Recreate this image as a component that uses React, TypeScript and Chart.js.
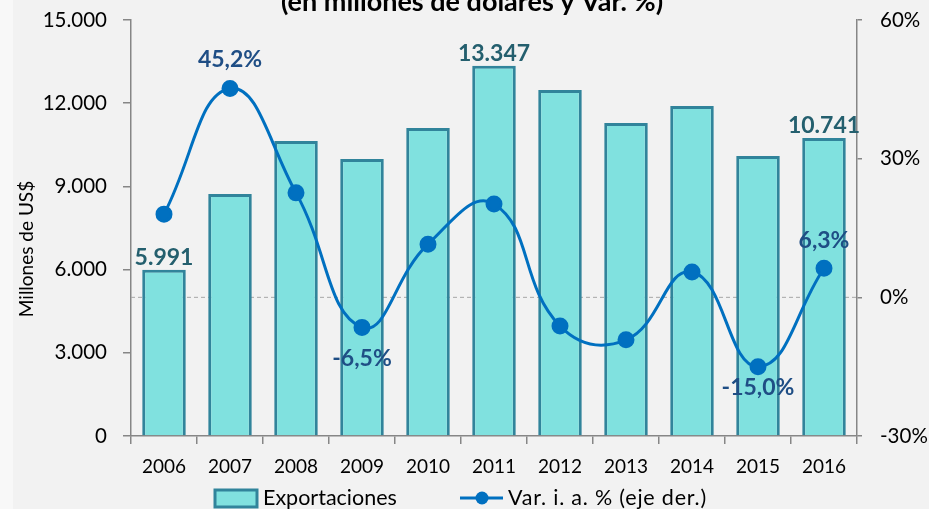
import React, { useEffect, useRef } from "react";
import { Chart, registerables } from "chart.js";

Chart.register(...registerables);

const years = ["2006", "2007", "2008", "2009", "2010", "2011", "2012", "2013", "2014", "2015", "2016"];
const exportaciones = [5991, 8726, 10640, 9990, 11110, 13347, 12480, 11290, 11900, 10100, 10741];
const variacion = [18.0, 45.2, 22.6, -6.5, 11.5, 20.2, -6.2, -9.2, 5.5, -15.0, 6.3];
const leftTicks = [0, 3000, 6000, 9000, 12000, 15000];
const rightTicks = [-30, 0, 30, 60];
// which points carry a data label
const barLabelIdx = [0, 5, 10];
const lineLabelIdx: { i: number; dy: number }[] = [
  { i: 1, dy: -29 },
  { i: 3, dy: 31 },
  { i: 9, dy: 21 },
  { i: 10, dy: -28 },
];

const FONT = "Lato, 'Open Sans', sans-serif";
const BAR_FILL = "#80E1DF";
const BAR_BORDER = "#31849B";
const LINE_COLOR = "#0070C0";
const AXIS_COLOR = "#868686";
const BAR_LABEL = "#245F6E";
const LINE_LABEL = "#1F4E85";

const fmtThousands = (v: number) => v.toString().replace(/\B(?=(\d{3})+(?!\d))/g, ".");
const fmtPct = (v: number) => v.toFixed(1).replace(".", ",") + "%";

const decorPlugin = {
  id: "decor",
  beforeDraw(chart: any) {
    const { ctx, width, height } = chart;
    ctx.save();
    ctx.fillStyle = "#F2F2F2";
    ctx.fillRect(0, 0, width, height);
    ctx.fillStyle = "#F8F8F8";
    ctx.fillRect(0, 0, 13, height);
    ctx.restore();
  },
  beforeDatasetsDraw(chart: any) {
    const { ctx, chartArea } = chart;
    const y1 = chart.scales.y1;
    const y0 = y1.getPixelForValue(0);
    ctx.save();
    ctx.strokeStyle = "#A6A6A6";
    ctx.lineWidth = 1;
    ctx.setLineDash([4, 3]);
    ctx.beginPath();
    ctx.moveTo(chartArea.left, y0);
    ctx.lineTo(chartArea.right, y0);
    ctx.stroke();
    ctx.restore();
  },
  afterDraw(chart: any) {
    const { ctx } = chart;
    ctx.save();
    // title (partially cut at top)
    ctx.fillStyle = "#000";
    ctx.font = `bold 27px ${FONT}`;
    ctx.textAlign = "center";
    ctx.textBaseline = "alphabetic";
    ctx.fillText("(en millones de dólares y Var. %)", 472, 11);

    // y axis title
    ctx.save();
    ctx.translate(27, 249);
    ctx.rotate(-Math.PI / 2);
    ctx.font = `19px ${FONT}`;
    ctx.textAlign = "center";
    ctx.textBaseline = "middle";
    ctx.fillText("Millones de US$", 0, 0);
    ctx.restore();

    // data labels
    const barMeta = chart.getDatasetMeta(0);
    const lineMeta = chart.getDatasetMeta(1);
    ctx.font = `bold 23px ${FONT}`;
    ctx.textAlign = "center";
    ctx.textBaseline = "bottom";
    ctx.fillStyle = BAR_LABEL;
    barLabelIdx.forEach((i) => {
      const el = barMeta.data[i];
      ctx.fillText(fmtThousands(exportaciones[i]), el.x, el.y - 1);
    });
    ctx.fillStyle = LINE_LABEL;
    ctx.textBaseline = "middle";
    lineLabelIdx.forEach(({ i, dy }) => {
      const el = lineMeta.data[i];
      ctx.fillText(fmtPct(variacion[i]), el.x, el.y + dy);
    });

    // legend
    const ly = 498;
    ctx.fillStyle = BAR_FILL;
    ctx.strokeStyle = BAR_BORDER;
    ctx.lineWidth = 3;
    ctx.fillRect(215, ly - 8, 42, 17);
    ctx.strokeRect(215, ly - 8, 42, 17);
    ctx.fillStyle = "#000";
    ctx.font = `21.5px ${FONT}`;
    ctx.textAlign = "left";
    ctx.textBaseline = "middle";
    ctx.fillText("Exportaciones", 263, ly);
    ctx.strokeStyle = LINE_COLOR;
    ctx.lineWidth = 3;
    ctx.beginPath();
    ctx.moveTo(460, ly);
    ctx.lineTo(503, ly);
    ctx.stroke();
    ctx.fillStyle = LINE_COLOR;
    ctx.beginPath();
    ctx.arc(482, ly, 6.5, 0, Math.PI * 2);
    ctx.fill();
    ctx.fillStyle = "#000";
    try {
      (ctx as any).letterSpacing = "0.8px";
    } catch (e) {}
    ctx.fillText("Var. i. a. % (eje der.)", 508, ly);
    ctx.restore();
  },
};

export default function App() {
  const ref = useRef<HTMLCanvasElement | null>(null);
  useEffect(() => {
    document.body.style.margin = "0";
    document.body.style.background = "#F2F2F2";
    if (!ref.current) return;
    const chart = new Chart(ref.current, {
      type: "bar",
      data: {
        labels: years,
        datasets: [
          {
            type: "bar",
            label: "Exportaciones",
            data: exportaciones,
            backgroundColor: BAR_FILL,
            borderColor: BAR_BORDER,
            borderWidth: 3,
            yAxisID: "y",
            barPercentage: 0.66,
            categoryPercentage: 1,
            order: 2,
          },
          {
            type: "line",
            label: "Var. i. a. % (eje der.)",
            data: variacion,
            borderColor: LINE_COLOR,
            backgroundColor: LINE_COLOR,
            borderWidth: 3,
            pointRadius: 7,
            pointHoverRadius: 7,
            tension: 0.45,
            yAxisID: "y1",
            order: 1,
          } as any,
        ],
      },
      options: {
        animation: false,
        responsive: false,
        maintainAspectRatio: false,
        layout: { padding: { top: 20, bottom: 28, left: 0, right: 0 } },
        plugins: {
          legend: { display: false },
          tooltip: { enabled: false },
          title: { display: false },
        },
        scales: {
          x: {
            offset: true,
            grid: {
              offset: true,
              drawOnChartArea: false,
              drawTicks: true,
              tickLength: 8,
              color: AXIS_COLOR,
              lineWidth: 1.5,
            },
            border: { color: AXIS_COLOR, width: 1.5 },
            ticks: { color: "#000", font: { family: FONT, size: 19 }, padding: 11, maxRotation: 0 },
            afterFit: (s: any) => {
              s.height = 45;
              s.paddingLeft = 0;
              s.paddingRight = 0;
            },
          },
          y: {
            position: "left",
            min: 0,
            max: 15000,
            afterBuildTicks: (s: any) => {
              s.ticks = leftTicks.map((v) => ({ value: v }));
            },
            grid: { drawOnChartArea: false, tickLength: 8, color: AXIS_COLOR, lineWidth: 1.5 },
            border: { color: AXIS_COLOR, width: 1.5 },
            ticks: {
              color: "#000",
              font: { family: FONT, size: 20.5 },
              padding: 16,
              callback: (v: any) => fmtThousands(Number(v)),
            },
            afterFit: (s: any) => {
              s.width = 131;
              s.paddingTop = 0;
              s.paddingBottom = 0;
            },
          },
          y1: {
            position: "right",
            min: -30,
            max: 60,
            afterBuildTicks: (s: any) => {
              s.ticks = rightTicks.map((v) => ({ value: v }));
            },
            grid: { drawOnChartArea: false, tickLength: 5, color: AXIS_COLOR, lineWidth: 1.5 },
            border: { color: AXIS_COLOR, width: 1.5 },
            ticks: {
              color: "#000",
              font: { family: FONT, size: 20.5 },
              padding: 18,
              callback: (v: any) => v + "%",
            },
            afterFit: (s: any) => {
              s.width = 72;
              s.paddingTop = 0;
              s.paddingBottom = 0;
            },
          },
        },
      },
      plugins: [decorPlugin],
    });
    return () => chart.destroy();
  }, []);
  return (
    <div style={{ position: "fixed", left: 0, top: 0, width: 929, height: 509 }}>
      <canvas ref={ref} width={929} height={509} style={{ width: 929, height: 509 }} />
    </div>
  );
}
